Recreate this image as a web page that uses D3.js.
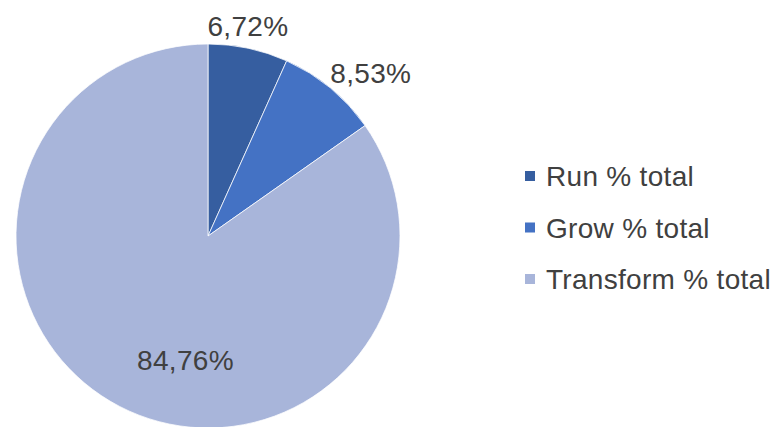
<!DOCTYPE html>
<html>
<head>
<meta charset="utf-8">
<script src="https://cdn.jsdelivr.net/npm/d3@7"></script>
<style>
  body { margin: 0; background: #fff; }
  svg text { font-family: "Liberation Sans", Arial, Helvetica, sans-serif; fill: #404040; }
</style>
</head>
<body>
<div id="chart"></div>
<script>
/* chart data */
var categories = ["Run % total", "Grow % total", "Transform % total"];
var values = [6.72, 8.53, 84.76];
var labels = ["6,72%", "8,53%", "84,76%"];
var colors = ["#365EA0", "#4472C4", "#A8B5DA"];

var width = 779, height = 427;
var cx = 208, cy = 236, radius = 192;
var fontSize = "28px";

var svg = d3.select("#chart").append("svg")
    .attr("width", width)
    .attr("height", height);

var pie = d3.pie().sort(null).value(function(d) { return d; });
var arcs = pie(values);

var arc = d3.arc().innerRadius(0).outerRadius(radius);

var g = svg.append("g")
    .attr("transform", "translate(" + cx + "," + cy + ")");

g.selectAll("path")
    .data(arcs)
    .enter()
    .append("path")
    .attr("d", arc)
    .attr("fill", function(d, i) { return colors[i]; })
    .attr("stroke", "#fff")
    .attr("stroke-width", 0.75);

// labels: small slices outside the edge, big slice inside
g.selectAll("text.lbl")
    .data(arcs)
    .enter()
    .append("text")
    .attr("class", "lbl")
    .style("font-size", fontSize)
    .style("letter-spacing", "0.3px")
    .each(function(d, i) {
        var mid = (d.startAngle + d.endAngle) / 2;
        var t = d3.select(this).text(labels[i]);
        if (d.endAngle - d.startAngle > Math.PI) {
            // inside label (best fit)
            var p = d3.pointRadial(mid - 0.3, radius * 0.66);
            t.attr("x", p[0]).attr("y", p[1] + 9).attr("text-anchor", "middle");
        } else {
            var q = d3.pointRadial(mid, radius + 8);
            var deg = mid * 180 / Math.PI;
            var anchor = deg < 22.5 ? "middle" : "start";
            var dy = deg < 22.5 ? -4 : 1;
            t.attr("x", anchor === "start" ? q[0] - 5 : q[0] - 2)
             .attr("y", q[1] + dy)
             .attr("text-anchor", anchor);
        }
    });

// legend
var legend = svg.append("g")
    .attr("transform", "translate(525,0)");

var y = d3.scalePoint()
    .domain(categories)
    .range([186, 289]);

var items = legend.selectAll("g")
    .data(categories)
    .enter()
    .append("g")
    .attr("transform", function(d) { return "translate(0," + y(d) + ")"; });

items.append("rect")
    .attr("x", 0)
    .attr("y", -15)
    .attr("width", 10)
    .attr("height", 10)
    .attr("fill", function(d, i) { return colors[i]; });

items.append("text")
    .attr("x", 21)
    .attr("y", 0)
    .style("font-size", fontSize)
    .style("letter-spacing", "0.3px")
    .text(function(d) { return d; });
</script>
</body>
</html>
